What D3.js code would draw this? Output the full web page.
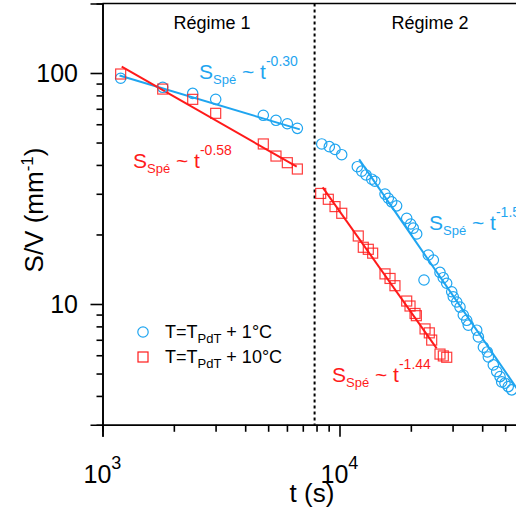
<!DOCTYPE html>
<html><head><meta charset="utf-8">
<script src="https://cdn.jsdelivr.net/npm/d3@7"></script>
<style>
html,body{margin:0;padding:0;background:#fff;overflow:hidden}
text{font-family:"Liberation Sans",Arial,sans-serif}
</style></head>
<body><svg id="c" width="516" height="512"></svg>
<script>
// ---- data ----
const blueR1T = [1193,1795,2402,3003,4770,5395,6024,6640];
const blueR1S = [94.9,86.7,81.6,76.9,65.6,62.4,60.3,57.6];
const redR1T  = [1193,1795,2402,3003,4770,5395,6024,6640];
const redR1S  = [99,85.2,76.9,66.9,49.3,43.7,40.9,38.4];
const blueR2T = [8414,9057,9574,10216,11890,12410,12940,13680,14100,15560,16070,16600,17420,19210,19970,20480,21170,22730,23700,24890,26550,27400,28330,29750,30200,31230,32240,33290,34410,34950,37930,38550,40470,42050,42470,44560,46050,47550,48340,49920,51520,53290];
const blueR2S = [49.3,48.0,46.7,44.3,39.3,37.6,36.2,34.7,34.0,29.9,28.7,27.7,26.6,23.5,22.2,21.3,20.1,12.7,16.3,15.5,13.7,13.0,12.3,11.3,10.75,10.2,9.7,8.96,8.5,8.1,7.7,7.2,6.5,6.2,5.9,5.45,5.1,4.85,4.6,4.54,4.39,4.25];
const redR2T  = [8330,8970,9575,10220,12000,12600,13230,13800,15560,16340,17140,19210,19840,20830,21100,22960,23930,24490,26550,27420,28340];
const redR2S  = [30.1,28.4,26.4,24.7,19.7,17.6,17.25,16.6,13.5,12.9,12.0,10.3,9.8,9.1,8.9,7.8,7.5,6.98,6.07,5.96,5.88];
const fitBlue1 = [[1180,97.5],[6800,57]];
const fitRed1  = [[1205,106.5],[6600,39.3]];
const fitBlue2 = [[12100,42.3],[57000,4.2]];
const fitRed2  = [[8490,32.0],[25700,6.43]];
const regimeBoundary = 7850;
const xMajor = [1000,10000];
const xMinor = [2000,3000,4000,5000,6000,7000,8000,9000,20000,30000,40000,50000];
const yMajor = [10,100];
const yMinor = [4,5,6,7,8,9,20,30,40,50,60,70,80,90];
const yLabels = ["10","100"];
const xLabelExp = ["3","4"];

const blue = "#1fa5f0", red = "#ff1a1a";
const svg = d3.select("#c");
const dec = 237, decY = 231;
const x = d3.scaleLog().domain([1000,60000]).range([102.5, 102.5 + dec*Math.log10(60)]);
const y = d3.scaleLog().domain([3,200]).range([73 + decY*Math.log10(100/3), 73 - decY*Math.log10(2)]);
const x0 = 102.5, yb = y(3), yt = y(200);

// frame
svg.append("line").attr("x1",x0).attr("x2",520).attr("y1",yt).attr("y2",yt).attr("stroke","#000").attr("stroke-width",1.6);

// axes
const gx = svg.append("g").attr("transform",`translate(0,${yb})`);
gx.call(d3.axisBottom(x).tickValues(xMinor).tickSize(7).tickFormat(""));
gx.call(g=>g.append("g").call(d3.axisBottom(x).tickValues(xMajor).tickSize(12).tickFormat("")));
gx.selectAll(".domain").attr("stroke-width",1.6);
gx.selectAll(".tick line").attr("stroke-width",1.6);
const gy = svg.append("g").attr("transform",`translate(${x0},0)`);
gy.call(d3.axisLeft(y).tickValues(yMinor).tickSize(6).tickFormat(""));
gy.call(g=>g.append("g").call(d3.axisLeft(y).tickValues(yMajor).tickSize(12).tickFormat("")));
gy.selectAll(".domain").attr("stroke-width",1.6);
gy.selectAll(".tick line").attr("stroke-width",1.6);

// y tick labels
yMajor.forEach((v,i)=>svg.append("text").attr("x",78).attr("y",y(v)+9).attr("text-anchor","end")
  .attr("font-size",25).text(yLabels[i]));
// x tick labels
xMajor.forEach((v,i)=>{
  const t = svg.append("text").attr("x",x(v)-19).attr("y",483).attr("font-size",25);
  t.append("tspan").text("10");
  t.append("tspan").attr("dy",-14).attr("font-size",18).text(xLabelExp[i]);
});
// axis titles
svg.append("text").attr("x",312).attr("y",502).attr("text-anchor","middle").attr("font-size",26).text("t (s)");
const yl = svg.append("text").attr("transform","translate(43,210) rotate(-90)").attr("text-anchor","middle").attr("font-size",26);
yl.append("tspan").text("S/V (mm");
yl.append("tspan").attr("dy",-10).attr("font-size",17).text("-1");
yl.append("tspan").attr("dy",10).text(")");

// regime divider
svg.append("line").attr("x1",x(regimeBoundary)).attr("x2",x(regimeBoundary)).attr("y1",yt).attr("y2",yb)
  .attr("stroke","#000").attr("stroke-width",2).attr("stroke-dasharray","3,3");
svg.append("text").attr("x",212).attr("y",29).attr("text-anchor","middle").attr("font-size",18).text("Régime 1");
svg.append("text").attr("x",430).attr("y",29).attr("text-anchor","middle").attr("font-size",18).text("Régime 2");

// fit lines
const line = d3.line().x(d=>x(d[0])).y(d=>y(d[1]));
[[fitBlue1,blue],[fitBlue2,blue],[fitRed1,red],[fitRed2,red]].forEach(([d,c])=>
  svg.append("path").attr("d",line(d)).attr("fill","none").attr("stroke",c).attr("stroke-width",2));

// markers
function circles(T,S){
  svg.append("g").selectAll("circle").data(T.map((t,i)=>[t,S[i]])).join("circle")
    .attr("cx",d=>x(d[0])).attr("cy",d=>y(d[1])).attr("r",5.2)
    .attr("fill","none").attr("stroke",blue).attr("stroke-width",1.2);
}
function squares(T,S){
  svg.append("g").selectAll("rect").data(T.map((t,i)=>[t,S[i]])).join("rect")
    .attr("x",d=>x(d[0])-5).attr("y",d=>y(d[1])-5).attr("width",10).attr("height",10)
    .attr("fill","none").attr("stroke",red).attr("stroke-opacity",0.85).attr("stroke-width",1.2);
}
circles(blueR1T,blueR1S); circles(blueR2T,blueR2S);
squares(redR1T,redR1S); squares(redR2T,redR2S);

// annotations
function ann(xp,yp,exp,c){
  const t = svg.append("text").attr("x",xp).attr("y",yp).attr("font-size",21).attr("fill",c);
  t.append("tspan").text("S");
  t.append("tspan").attr("dy",5).attr("font-size",13).text("Spé");
  t.append("tspan").attr("dy",-5).text(" ~ t");
  t.append("tspan").attr("dy",-13).attr("font-size",14).text(exp);
}
ann(199,79,"-0.30",blue);
ann(133,168,"-0.58",red);
ann(429,230,"-1.5",blue);
ann(332,382,"-1.44",red);

// legend
svg.append("circle").attr("cx",143).attr("cy",332).attr("r",5.2).attr("fill","none").attr("stroke",blue).attr("stroke-width",1.2);
svg.append("rect").attr("x",138).attr("y",352).attr("width",10).attr("height",10).attr("fill","none").attr("stroke",red).attr("stroke-width",1.2);
function leg(yp,txt){
  const t = svg.append("text").attr("x",165).attr("y",yp).attr("font-size",18);
  t.append("tspan").text("T=T");
  t.append("tspan").attr("dy",5).attr("font-size",13).text("PdT");
  t.append("tspan").attr("dy",-5).text(txt);
}
leg(338," + 1°C");
leg(363," + 10°C");
</script></body></html>
